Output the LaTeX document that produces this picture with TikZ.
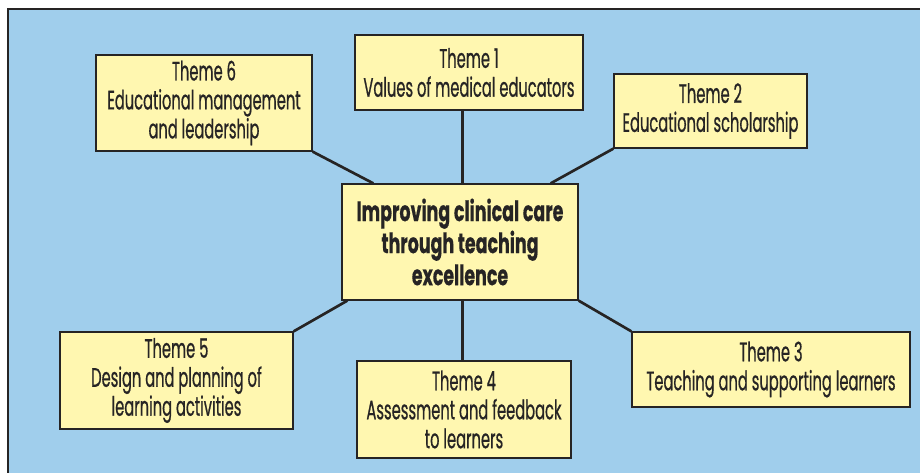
\documentclass[tikz,border=0pt]{standalone}
\usepackage{fontspec}
\setmainfont[FakeStretch=0.55, FakeBold=0.6, BoldFeatures={FakeStretch=0.62, FakeBold=0.4}]{Poppins}
\usepackage{xcolor}
\usetikzlibrary{positioning,calc}
\definecolor{bgblue}{RGB}{160,206,236}
\definecolor{boxyellow}{RGB}{255,247,176}
\definecolor{inkgrey}{RGB}{38,36,36}

\begin{document}
\begin{tikzpicture}[
    theme/.style={draw=inkgrey, line width=0.9pt, fill=boxyellow, align=center, inner sep=0pt, text=inkgrey, font=\fontsize{19}{20.6}\selectfont},
    hub/.style={theme, font=\bfseries\fontsize{20}{22.8}\selectfont},
    link/.style={draw=inkgrey, line width=1.9pt}]
    \useasboundingbox (0,0) rectangle (23,-11.8);

    % Background panel
    \draw[draw=inkgrey, line width=0.9pt, fill=bgblue] (0.2,-0.225) rectangle (23.6,-12.3);

    % Centre
    \node[hub, minimum width=5.9cm, minimum height=2.9cm] (C) at (11.5,-6.05) {Improving clinical care\\through teaching\\excellence};

    % Themes
    \node[theme, minimum width=5.7cm, minimum height=1.875cm] (T1) at (11.725,-1.8125) {Theme 1\\Values of medical educators};
    \node[theme, minimum width=4.825cm, minimum height=1.85cm] (T2) at (17.7625,-2.775) {Theme 2\\Educational scholarship};
    \node[theme, minimum width=6.95cm, minimum height=1.875cm] (T3) at (19.275,-9.2375) {Theme 3\\Teaching and supporting learners};
    \node[theme, minimum width=5.35cm, minimum height=2.425cm] (T4) at (11.6,-10.2375) {Theme 4\\Assessment and feedback\\to learners};
    \node[theme, minimum width=5.825cm, minimum height=2.425cm] (T5) at (4.4125,-9.5125) {Theme 5\\Design and planning of\\learning activities};
    \node[theme, minimum width=5.4cm, minimum height=2.4cm] (T6) at (5.1,-2.575) {Theme 6\\Educational management\\and leadership};

    % Spokes
    \draw[link] ([xshift=0.06cm]C.north) -- ([xshift=0.06cm]C.north |- T1.south);
    \draw[link] ([xshift=-0.7cm]C.north east) -- (T2.south west);
    \draw[link] (C.south east) -- (T3.north west);
    \draw[link] ([xshift=0.06cm]C.south) -- ([xshift=0.06cm]C.south |- T4.north);
    \draw[link] ([xshift=0.15cm]C.south west) -- (T5.north east);
    \draw[link] ([xshift=0.8cm]C.north west) -- (T6.south east);

\end{tikzpicture}
\end{document}
